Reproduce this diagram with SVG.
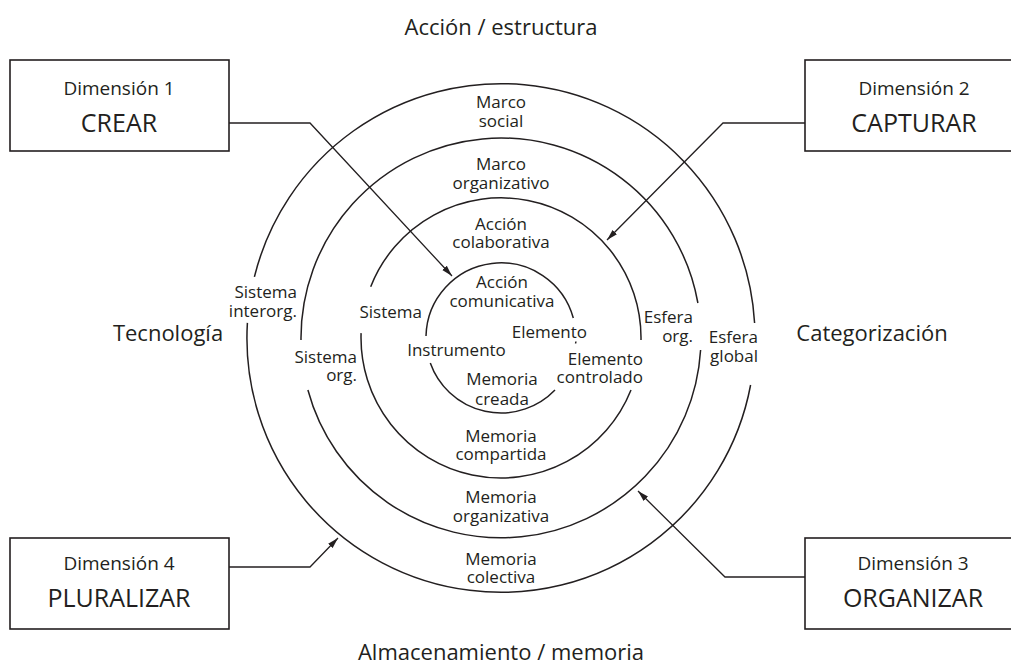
<svg xmlns="http://www.w3.org/2000/svg" width="1011" height="666" viewBox="0 0 1011 666">
<style>
 .t{font-family:"Open Sans","Liberation Sans",sans-serif;fill:#231f20}
 .l{font-size:17px}
 .m{text-anchor:middle}
 .e{text-anchor:end}
 .big{font-size:22px}
 .dim{font-size:19px}
 .cap{font-size:25px}
 .ring{fill:none;stroke:#231f20;stroke-width:1.5}
 .box{fill:#fff;stroke:#231f20;stroke-width:1.6}
 .con{fill:none;stroke:#231f20;stroke-width:1.3;marker-end:url(#ah)}
</style>
<defs>
 <marker id="ah" markerWidth="12" markerHeight="8" refX="11" refY="4" orient="auto" markerUnits="userSpaceOnUse">
  <path d="M0,0.9 L11,4 L0,7.1 Z" fill="#231f20"/>
 </marker>
</defs>
<rect width="1011" height="666" fill="#fff"/>

<g id="rings">
 <path class="ring" d="M254.4 276.9 A254 254 0 0 1 754.6 323"/>
 <path class="ring" d="M750.6 385 A254 254 0 0 1 247.4 322.9"/>
 <path class="ring" d="M301 340 A200 200 0 0 1 697.9 303"/>
 <path class="ring" d="M700.6 350 A200 200 0 0 1 307.9 390"/>
 <path class="ring" d="M370.7 286.7 A140 140 0 0 1 641 340"/>
 <path class="ring" d="M631 390 A140 140 0 0 1 361.1 333.1"/>
 <path class="ring" d="M426 336 A75 75 0 0 1 573.3 318"/>
 <path class="ring" d="M430.3 363 A75 75 0 0 0 555 390"/>
 <path class="ring" d="M575.9 341.5 A75 75 0 0 1 575.6 343.5"/>
</g>

<g id="axis-labels">
 <text class="t big m" x="501" y="35">Acción / estructura</text>
 <text class="t big m" x="168" y="341">Tecnología</text>
 <text class="t big m" x="872" y="341">Categorización</text>
 <text class="t big m" x="501" y="660">Almacenamiento / memoria</text>
</g>

<g id="ring-labels">
 <text class="t l m" y="108"><tspan x="501">Marco</tspan><tspan x="501" dy="19">social</tspan></text>
 <text class="t l m" y="170"><tspan x="501">Marco</tspan><tspan x="501" dy="19">organizativo</tspan></text>
 <text class="t l m" y="230"><tspan x="501">Acción</tspan><tspan x="501" dy="18">colaborativa</tspan></text>
 <text class="t l m" y="288"><tspan x="502">Acción</tspan><tspan x="502" dy="19">comunicativa</tspan></text>
 <text class="t l m" y="385"><tspan x="502">Memoria</tspan><tspan x="502" dy="20">creada</tspan></text>
 <text class="t l m" y="442"><tspan x="501">Memoria</tspan><tspan x="501" dy="18">compartida</tspan></text>
 <text class="t l m" y="503"><tspan x="501">Memoria</tspan><tspan x="501" dy="19">organizativa</tspan></text>
 <text class="t l m" y="565"><tspan x="501">Memoria</tspan><tspan x="501" dy="18">colectiva</tspan></text>

 <text class="t l e" y="298"><tspan x="297">Sistema</tspan><tspan x="297" dy="19">interorg.</tspan></text>
 <text class="t l e" x="422" y="318">Sistema</text>
 <text class="t l e" y="363"><tspan x="357">Sistema</tspan><tspan x="357" dy="18">org.</tspan></text>
 <text class="t l m" x="456.5" y="356">Instrumento</text>
 <text class="t l e" x="587" y="338">Elemento</text>
 <text class="t l e" y="365"><tspan x="643">Elemento</tspan><tspan x="643" dy="18">controlado</tspan></text>
 <text class="t l e" y="323"><tspan x="693">Esfera</tspan><tspan x="693" dy="19">org.</tspan></text>
 <text class="t l e" y="343"><tspan x="758">Esfera</tspan><tspan x="758" dy="19">global</tspan></text>
</g>

<g id="connectors">
 <path class="con" d="M229 123 H310 L452 276"/>
 <path class="con" d="M805 123 H723 L607 240"/>
 <path class="con" d="M229 567 H310 L338 538"/>
 <path class="con" d="M805 577 H725 L638 491"/>
</g>

<g id="dim1">
 <rect class="box" x="10" y="60" width="219" height="91"/>
 <text class="t dim m" x="119" y="95">Dimensión 1</text>
 <text class="t cap m" x="119" y="132">CREAR</text>
</g>
<g id="dim2">
 <rect class="box" x="805" y="60" width="220" height="91"/>
 <text class="t dim m" x="914" y="95">Dimensión 2</text>
 <text class="t cap m" x="914" y="132">CAPTURAR</text>
</g>
<g id="dim3">
 <rect class="box" x="805" y="538" width="220" height="91"/>
 <text class="t dim m" x="913" y="570">Dimensión 3</text>
 <text class="t cap m" x="913" y="607">ORGANIZAR</text>
</g>
<g id="dim4">
 <rect class="box" x="10" y="538" width="219" height="91"/>
 <text class="t dim m" x="119" y="570">Dimensión 4</text>
 <text class="t cap m" x="119" y="607">PLURALIZAR</text>
</g>
</svg>
